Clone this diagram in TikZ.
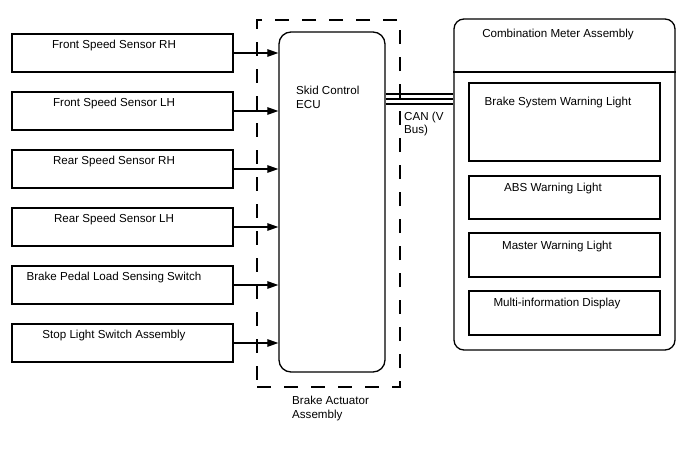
\documentclass[tikz,border=0pt]{standalone}
\usepackage{fontspec}
\setmainfont{Liberation Sans}
\usetikzlibrary{arrows.meta}
\begin{document}
\begin{tikzpicture}[x=1pt,y=-1pt,
  box/.style={draw,line width=1.3pt,rectangle,inner sep=0pt},
  txt/.style={font=\fontsize{11.6}{13.5}\selectfont,inner sep=0pt,anchor=base},
  ltxt/.style={font=\fontsize{11.6}{13.5}\selectfont,inner sep=0pt,anchor=base west},
  arr/.style={line width=1.2pt,-{Triangle[length=11pt,width=7.5pt]}},
  canl/.style={line width=2.1pt}]
\useasboundingbox (0,0) rectangle (688,463);
% dashed actuator boundary
\node[draw,line width=1.4pt,dash pattern=on 14pt off 13pt,minimum width=143pt,minimum height=367pt,inner sep=0pt] (act) at (328.5,203.5) {};
% ECU
\node[box,rounded corners=12pt,minimum width=106pt,minimum height=340pt] (ecu) at (332,202) {};
\node[ltxt] (ecut1) at (296,94) {Skid Control};
\node[ltxt] (ecut2) at (296,108) {ECU};
\node[ltxt] (actt1) at (292,404) {Brake Actuator};
\node[ltxt] (actt2) at (292,418) {Assembly};
% left sensors
\foreach \i/\t/\y in {1/Front Speed Sensor RH/34,2/Front Speed Sensor LH/92,3/Rear Speed Sensor RH/150,4/Rear Speed Sensor LH/208,5/Brake Pedal Load Sensing Switch/266,6/Stop Light Switch Assembly/324}{
  \node[box,minimum width=221pt,minimum height=38pt] (s\i) at (122.5,\y+19) {};
  \node[txt] (st\i) at (114,\y+14) {\t};
  \draw[arr] (s\i.east) -- (ecu.west |- s\i.east);
}
% combination meter
\node[box,rounded corners=10pt,minimum width=221pt,minimum height=331pt] (meter) at (564.5,184.5) {};
\coordinate (div) at (0,72);
\draw[line width=1.3pt] (meter.west |- div) -- (meter.east |- div);
\node[txt] (mt) at (558,37) {Combination Meter Assembly};
\node[box,minimum width=191pt,minimum height=78pt] (l1) at (564.5,122) {};
\node[txt] (lt1) at (558,105) {Brake System Warning Light};
\node[box,minimum width=191pt,minimum height=43pt] (l2) at (564.5,197.5) {};
\node[txt] (lt2) at (553,191) {ABS Warning Light};
\node[box,minimum width=191pt,minimum height=44pt] (l3) at (564.5,255) {};
\node[txt] (lt3) at (557,249) {Master Warning Light};
\node[box,minimum width=191pt,minimum height=44pt] (l4) at (564.5,313) {};
\node[txt] (lt4) at (557,306) {Multi-information Display};
% CAN bus
\coordinate (c1) at (0,94.3);
\coordinate (c2) at (0,99.2);
\coordinate (c3) at (0,104);
\foreach \c in {c1,c2,c3}{\draw[canl] (ecu.east |- \c) -- (meter.west |- \c);}
\node[ltxt] (cant1) at (404,120) {CAN (V};
\node[ltxt] (cant2) at (404,133) {Bus)};
\end{tikzpicture}
\end{document}
